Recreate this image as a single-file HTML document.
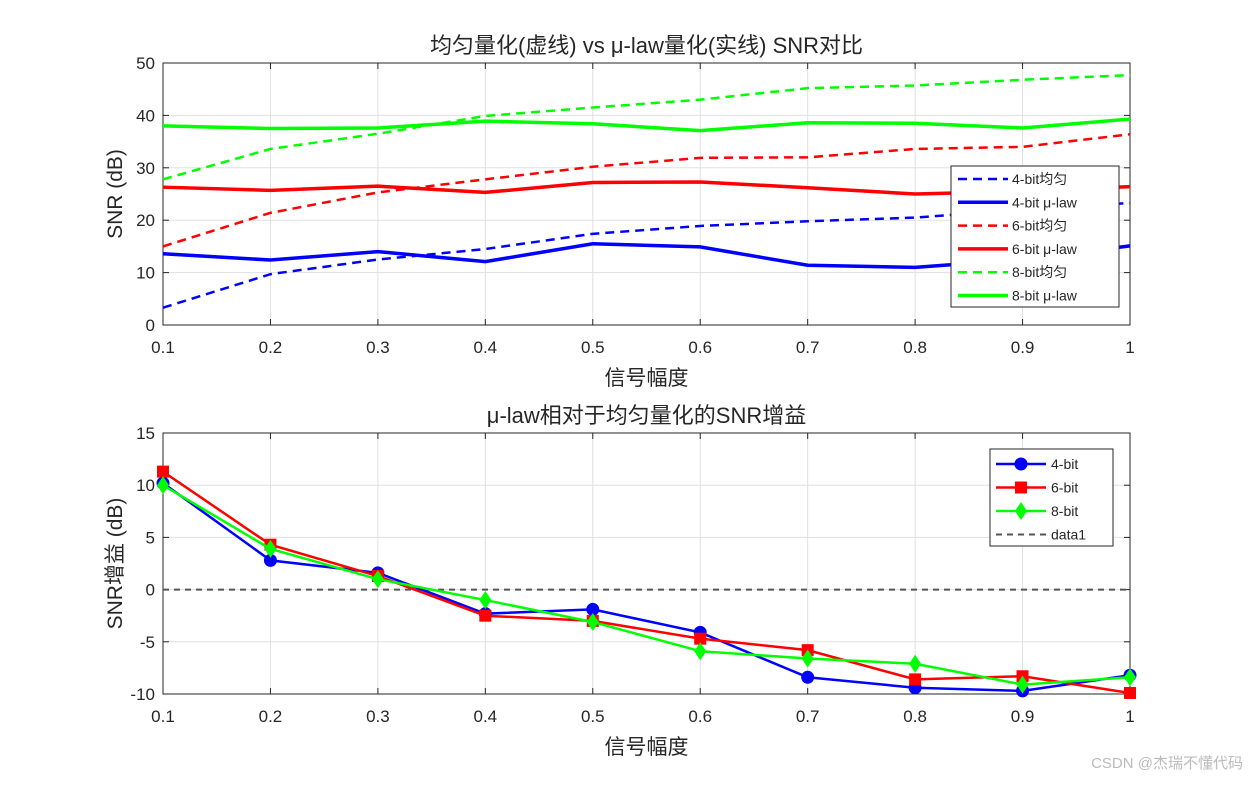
<!DOCTYPE html>
<html><head><meta charset="utf-8"><style>
body{margin:0;background:#fff;}
svg text{font-family:"Liberation Sans","Noto Sans CJK SC",sans-serif;fill:#262626;}
</style></head><body>
<svg id="c" width="1250" height="781" xmlns="http://www.w3.org/2000/svg"></svg>
<script>
const xs=[0.1,0.2,0.3,0.4,0.5,0.6,0.7,0.8,0.9,1.0];
const uni4=[3.3,9.7,12.5,14.5,17.4,18.9,19.8,20.5,22.0,23.3];
const mu4=[13.6,12.4,14.0,12.1,15.5,14.9,11.4,11.0,12.5,15.1];
const uni6=[15.0,21.4,25.3,27.8,30.2,31.9,32.0,33.6,34.0,36.4];
const mu6=[26.3,25.7,26.5,25.3,27.2,27.3,26.2,25.0,25.5,26.4];
const uni8=[27.8,33.6,36.5,39.9,41.5,43.0,45.2,45.7,46.8,47.7];
const mu8=[38.0,37.5,37.6,38.9,38.4,37.1,38.6,38.5,37.6,39.3];
const gain4=[10.2,2.8,1.6,-2.3,-1.9,-4.1,-8.4,-9.4,-9.7,-8.2];
const gain6=[11.3,4.3,1.3,-2.5,-3.0,-4.7,-5.8,-8.6,-8.3,-9.9];
const gain8=[10.0,3.9,1.0,-1.0,-3.1,-5.9,-6.6,-7.1,-9.1,-8.4];
const xTicks=[0.1,0.2,0.3,0.4,0.5,0.6,0.7,0.8,0.9,1];
const yTicksTop=[0,10,20,30,40,50];
const yTicksBot=[-10,-5,0,5,10,15];

const svg=document.getElementById('c');
const NS='http://www.w3.org/2000/svg';
function el(t,a,p){const e=document.createElementNS(NS,t);for(const k in a)e.setAttribute(k,a[k]);(p||svg).appendChild(e);return e;}
const L=163,R=1130;
function sx(v){return L+(v-0.1)/0.9*(R-L);}

function axes(name,top,bot,ymin,ymax,yt,title,ylab){
  const g=el('g',{});
  
  
  const sy=v=>bot-(v-ymin)/(ymax-ymin)*(bot-top);
  el('rect',{x:L,y:top,width:R-L,height:bot-top,fill:'#fff'},g);
  xTicks.forEach(t=>{el('line',{x1:sx(t),x2:sx(t),y1:top,y2:bot,stroke:'#e0e0e0','stroke-width':1},g);
    el('line',{x1:sx(t),x2:sx(t),y1:bot,y2:bot-6,stroke:'#262626'},g);el('line',{x1:sx(t),x2:sx(t),y1:top,y2:top+6,stroke:'#262626'},g);
    const tx=el('text',{x:sx(t),y:bot+28,'font-size':17,'text-anchor':'middle'},g);tx.textContent=t;
    });
  yt.forEach(t=>{el('line',{x1:L,x2:R,y1:sy(t),y2:sy(t),stroke:'#e0e0e0'},g);
    el('line',{x1:L,x2:L+6,y1:sy(t),y2:sy(t),stroke:'#262626'},g);el('line',{x1:R,x2:R-6,y1:sy(t),y2:sy(t),stroke:'#262626'},g);
    const tx=el('text',{x:L-8,y:sy(t)+6,'font-size':17,'text-anchor':'end'},g);tx.textContent=t;
    });
  el('rect',{x:L,y:top,width:R-L,height:bot-top,fill:'none',stroke:'#262626','stroke-width':1},g);
  const tt=el('text',{x:(L+R)/2,y:top-10,'font-size':22,'text-anchor':'middle'},g);tt.textContent=title;
  
  const xl=el('text',{x:(L+R)/2,y:bot+60,'font-size':21,'text-anchor':'middle'},g);xl.textContent='信号幅度';
  
  const yl=el('text',{x:0,y:0,'font-size':21,'text-anchor':'middle',transform:`translate(122,${(top+bot)/2}) rotate(-90)`},g);yl.textContent=ylab;
  
  return sy;
}
function line(vals,sy,color,dash,w,name){
  const p=el('polyline',{points:vals.map((v,i)=>sx(xs[i])+','+sy(v)).join(' '),fill:'none',stroke:color,'stroke-width':w,'stroke-dasharray':dash||'none'});
  
}
function marker(type,x,y,color){
  let m;
  if(type==='o')m=el('circle',{cx:x,cy:y,r:6.5,fill:color});
  else if(type==='s')m=el('rect',{x:x-6,y:y-6,width:12,height:12,fill:color});
  else m=el('polygon',{points:`${x},${y-9} ${x+6},${y} ${x},${y+9} ${x-6},${y}`,fill:color});
  return m;
}
const sy1=axes('snr-axes',63,325,0,50,yTicksTop,'均匀量化(虚线) vs μ-law量化(实线) SNR对比','SNR (dB)');
line(uni4,sy1,'#0000ff','9,6',2.5,'line-4bit-uniform');
line(mu4,sy1,'#0000ff',null,3.5,'line-4bit-mulaw');
line(uni6,sy1,'#ff0000','9,6',2.5,'line-6bit-uniform');
line(mu6,sy1,'#ff0000',null,3.5,'line-6bit-mulaw');
line(uni8,sy1,'#00ff00','9,6',2.5,'line-8bit-uniform');
line(mu8,sy1,'#00ff00',null,3.5,'line-8bit-mulaw');
(function(){const g=el('g',{});
 el('rect',{x:951,y:166,width:168,height:141,fill:'#fff',stroke:'#262626'},g);
 const items=[['4-bit均匀','#0000ff',1],['4-bit μ-law','#0000ff',0],['6-bit均匀','#ff0000',1],['6-bit μ-law','#ff0000',0],['8-bit均匀','#00ff00',1],['8-bit μ-law','#00ff00',0]];
 items.forEach((it,i)=>{const y=179+i*23.3;
  el('line',{x1:958,x2:1008,y1:y,y2:y,stroke:it[1],'stroke-width':it[2]?2.5:3.5,'stroke-dasharray':it[2]?'9,6':'none'},g);
  const t=el('text',{x:1012,y:y+5,'font-size':14},g);t.textContent=it[0];
  });})();
const sy2=axes('gain-axes',433,694,-10,15,yTicksBot,'μ-law相对于均匀量化的SNR增益','SNR增益 (dB)');
const z=el('line',{x1:L,x2:R,y1:sy2(0),y2:sy2(0),stroke:'#555','stroke-width':2,'stroke-dasharray':'6,5'});

[[gain4,'#0000ff','o','gain-4bit'],[gain6,'#ff0000','s','gain-6bit'],[gain8,'#00ff00','d','gain-8bit']].forEach(s=>{
  line(s[0],sy2,s[1],null,2.5,s[3]+'-line');
  s[0].forEach((v,i)=>{const m=marker(s[2],sx(xs[i]),sy2(v),s[1]);
    });
});
(function(){const g=el('g',{});
 el('rect',{x:990,y:449,width:123,height:97,fill:'#fff',stroke:'#262626'},g);
 const items=[['4-bit','#0000ff','o'],['6-bit','#ff0000','s'],['8-bit','#00ff00','d'],['data1','#555','-']];
 items.forEach((it,i)=>{const y=464+i*23.5;
  if(it[2]==='-'){el('line',{x1:996,x2:1046,y1:y,y2:y,stroke:it[1],'stroke-width':2,'stroke-dasharray':'6,5'},g);}
  else{el('line',{x1:996,x2:1046,y1:y,y2:y,stroke:it[1],'stroke-width':2.5},g);g.appendChild(marker(it[2],1021,y,it[1]));}
  const t=el('text',{x:1051,y:y+5,'font-size':14},g);t.textContent=it[0];
  });})();
const w=el('text',{x:1243,y:768,'font-size':15,'text-anchor':'end',style:'fill:#bbb'});w.textContent='CSDN @杰瑞不懂代码';

</script>
</body></html>
